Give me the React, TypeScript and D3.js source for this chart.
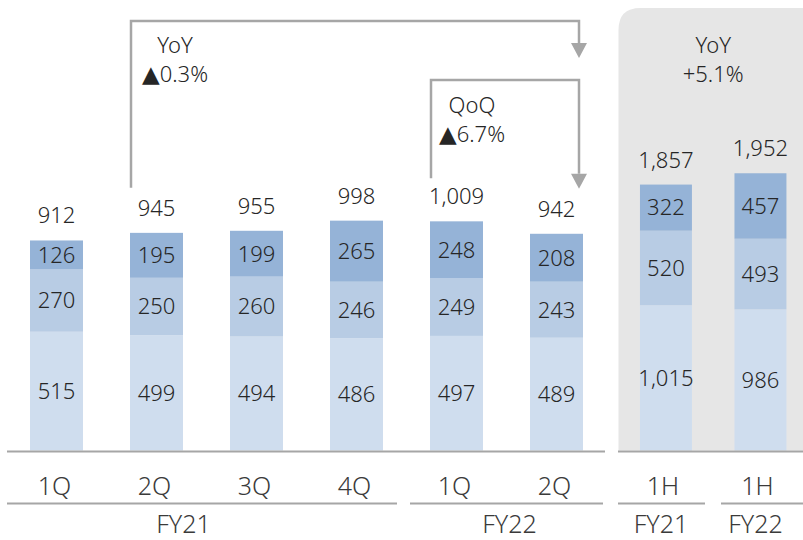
import React from "react";
import * as d3 from "d3";

const quarterLabels = ["1Q", "2Q", "3Q", "4Q", "1Q", "2Q"];
const quarterYears = ["FY21", "FY21", "FY21", "FY21", "FY22", "FY22"];
const quarterBottom = [515, 499, 494, 486, 497, 489];
const quarterMiddle = [270, 250, 260, 246, 249, 243];
const quarterTop = [126, 195, 199, 265, 248, 208];
const quarterTotals = [912, 945, 955, 998, 1009, 942];

const halfLabels = ["1H", "1H"];
const halfYears = ["FY21", "FY22"];
const halfBottom = [1015, 986];
const halfMiddle = [520, 493];
const halfTop = [322, 457];
const halfTotals = [1857, 1952];

const yoyQuarterTitle = "YoY";
const yoyQuarterValue = "0.3%";
const qoqTitle = "QoQ";
const qoqValue = "6.7%";
const yoyHalfText = ["YoY", "+5.1%"];
const UP = "▲";

const W = 803;
const H = 540;
const BASE = 450.5;
const FONT = "'Noto Sans', 'DejaVu Sans', sans-serif";
const WEIGHT = 300;
const COLORS = ["#cfddee", "#b8cce4", "#95b3d7"];
const LINE = "#a6a6a6";
const TEXT = "#262626";

const fmt = d3.format(",");

function buildStack(bottom: number[], middle: number[], top: number[]) {
  const rows = bottom.map((b, i) => ({ b, m: middle[i], t: top[i] }));
  return d3.stack<any>().keys(["b", "m", "t"])(rows);
}

function ChangeLabel({ x, y, title, value }: { x: number; y: number; title: string; value: string }) {
  return (
    <g>
      <text x={x} y={y} textAnchor="middle" fontSize={22} fontWeight={WEIGHT} fill={TEXT} fontFamily={FONT}>
        {title}
      </text>
      <text x={x} y={y + 29} textAnchor="middle" fontSize={22} fontWeight={WEIGHT} fill={TEXT} fontFamily={FONT}>
        <tspan fontFamily="'DejaVu Sans'" fontSize={23} fontWeight={400}>{UP}</tspan>
        <tspan>{value}</tspan>
      </text>
    </g>
  );
}

export default function App() {
  const qIds = quarterLabels.map((_, i) => String(i));
  const hIds = halfLabels.map((_, i) => String(i));

  const xQ = d3.scaleBand().domain(qIds).range([6.5, 606.5]).paddingInner(0.47).paddingOuter(0.235);
  const xH = d3.scaleBand().domain(hIds).range([618.7, 807.7]).paddingInner(0.45).paddingOuter(0.225);
  const yQ = d3.scaleLinear().domain([0, 1954]).range([BASE, 0]);
  const yH = d3.scaleLinear().domain([0, 3146]).range([BASE, 0]);

  const qStack = buildStack(quarterBottom, quarterMiddle, quarterTop);
  const hStack = buildStack(halfBottom, halfMiddle, halfTop);

  const renderBars = (stack: any[], x: any, y: any, ids: string[], totals: number[], key: string) => (
    <g key={key}>
      {stack.map((layer, li) =>
        layer.map((d: any, i: number) => {
          const y0 = y(d[1]);
          const y1 = y(d[0]);
          const bx = x(ids[i]);
          const bw = x.bandwidth();
          return (
            <g key={`${key}-${li}-${i}`}>
              <rect x={bx} y={y0} width={bw} height={y1 - y0} fill={COLORS[li]} />
              <text
                x={bx + bw / 2}
                y={(y0 + y1) / 2 + 7.8}
                textAnchor="middle"
                fontSize={22}
                fontWeight={WEIGHT}
                fill={TEXT}
                fontFamily={FONT}
              >
                {fmt(d.data[layer.key])}
              </text>
            </g>
          );
        })
      )}
      {totals.map((t, i) => {
        const top = y(stack[stack.length - 1][i][1]);
        return (
          <text
            key={`${key}-tot-${i}`}
            x={x(ids[i]) + x.bandwidth() / 2}
            y={top - 17}
            textAnchor="middle"
            fontSize={22}
            fontWeight={WEIGHT}
            fill={TEXT}
            fontFamily={FONT}
          >
            {fmt(t)}
          </text>
        );
      })}
    </g>
  );

  const qTop = (i: number) => yQ(qStack[2][i][1]);
  const c = (i: number) => (xQ(qIds[i]) as number) + xQ.bandwidth() / 2;
  const yoyLeft = xQ(qIds[1]) as number;
  const qoqLeft = xQ(qIds[4]) as number;
  const rightX = c(5) + 22.5;
  const yoyTopY = 21;
  const qoqTopY = 80;
  const yoyLeftEnd = qTop(1) - 45;
  const qoqLeftEnd = qTop(4) - 43;
  const yoyArrowTip = 58;
  const qoqArrowTip = qTop(5) - 45;
  const arrowH = 15;
  const arrowW = 8;

  const panelX = 618.5;
  const panelY = 8;
  const r = 22;
  const panelPath = `M${panelX},${BASE} L${panelX},${panelY + r} Q${panelX},${panelY} ${panelX + r},${panelY} L${W + 30},${panelY} L${W + 30},${BASE} Z`;

  const halfCenter = (i: number) => (xH(hIds[i]) as number) + xH.bandwidth() / 2;
  const panelCenter = (halfCenter(0) + halfCenter(1)) / 2;

  const groups = Array.from(new Set(quarterYears));

  return (
    <svg
      width={W}
      height={H}
      style={{ position: "absolute", left: 0, top: 0, display: "block", background: "#fff" }}
    >
      <path d={panelPath} fill="#e6e6e6" />

      {renderBars(qStack, xQ, yQ, qIds, quarterTotals, "q")}
      {renderBars(hStack, xH, yH, hIds, halfTotals, "h")}

      <line x1={7} x2={605} y1={BASE + 1} y2={BASE + 1} stroke={LINE} strokeWidth={2} />
      <line x1={618} x2={W} y1={BASE + 1} y2={BASE + 1} stroke={LINE} strokeWidth={2} />

      <polyline
        points={`${yoyLeft + 1},${yoyLeftEnd} ${yoyLeft + 1},${yoyTopY} ${rightX},${yoyTopY} ${rightX},${yoyArrowTip - arrowH}`}
        fill="none"
        stroke={LINE}
        strokeWidth={2.5}
      />
      <path
        d={`M${rightX - arrowW},${yoyArrowTip - arrowH} L${rightX + arrowW},${yoyArrowTip - arrowH} L${rightX},${yoyArrowTip} Z`}
        fill={LINE}
      />
      <polyline
        points={`${qoqLeft + 1},${qoqLeftEnd} ${qoqLeft + 1},${qoqTopY} ${rightX},${qoqTopY} ${rightX},${qoqArrowTip - arrowH}`}
        fill="none"
        stroke={LINE}
        strokeWidth={2.5}
      />
      <path
        d={`M${rightX - arrowW},${qoqArrowTip - arrowH} L${rightX + arrowW},${qoqArrowTip - arrowH} L${rightX},${qoqArrowTip} Z`}
        fill={LINE}
      />

      <ChangeLabel x={175} y={53} title={yoyQuarterTitle} value={yoyQuarterValue} />
      <ChangeLabel x={472} y={113} title={qoqTitle} value={qoqValue} />
      {yoyHalfText.map((t, i) => (
        <text key={`yh${i}`} x={panelCenter} y={53 + i * 29} textAnchor="middle" fontSize={22} fontWeight={WEIGHT} fill={TEXT} fontFamily={FONT}>
          {t}
        </text>
      ))}

      {quarterLabels.map((l, i) => (
        <text key={`ql${i}`} x={c(i) - 2} y={495} textAnchor="middle" fontSize={25} fontWeight={WEIGHT} fill="#3a3a3a" fontFamily={FONT}>
          {l}
        </text>
      ))}
      {halfLabels.map((l, i) => (
        <text key={`hl${i}`} x={halfCenter(i) - 3} y={495} textAnchor="middle" fontSize={25} fontWeight={WEIGHT} fill="#3a3a3a" fontFamily={FONT}>
          {l}
        </text>
      ))}

      {groups.map((g, gi) => {
        const idx = quarterYears.map((y, i) => (y === g ? i : -1)).filter((i) => i >= 0);
        const first = idx[0];
        const last = idx[idx.length - 1];
        const x1 = gi === 0 ? 7 : (xQ(qIds[first]) as number) - 20;
        const x2 = gi === groups.length - 1 ? 603 : (xQ(qIds[last]) as number) + xQ.bandwidth() + 14;
        const labelX = gi === 0 ? (c(first) + c(last)) / 2 - 23 : (c(first) + c(last)) / 2 + 3;
        return (
          <g key={`g${gi}`}>
            <line x1={x1} x2={x2} y1={503.5} y2={503.5} stroke={LINE} strokeWidth={2} />
            <text x={labelX} y={533} textAnchor="middle" fontSize={25} fontWeight={WEIGHT} fill="#3a3a3a" fontFamily={FONT}>
              {g}
            </text>
          </g>
        );
      })}
      {halfYears.map((g, i) => {
        const x1 = i === 0 ? 618 : 721;
        const x2 = i === 0 ? 705 : W;
        return (
          <g key={`hg${i}`}>
            <line x1={x1} x2={x2} y1={503.5} y2={503.5} stroke={LINE} strokeWidth={2} />
            <text x={halfCenter(i) - 5} y={533} textAnchor="middle" fontSize={25} fontWeight={WEIGHT} fill="#3a3a3a" fontFamily={FONT}>
              {g}
            </text>
          </g>
        );
      })}
    </svg>
  );
}
